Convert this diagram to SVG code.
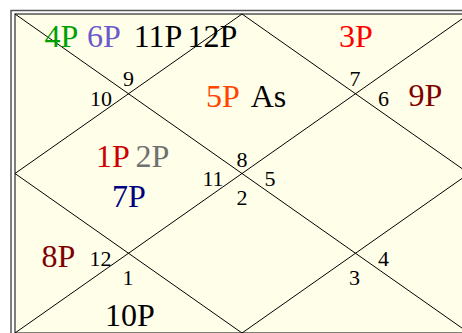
<svg xmlns="http://www.w3.org/2000/svg" width="462" height="333" viewBox="0 0 462 333">
<style>
.p{font-family:"Liberation Serif","Times New Roman",serif;font-size:32px;text-anchor:middle}
.n{font-family:"Liberation Serif","Times New Roman",serif;font-size:22px;text-anchor:middle;fill:#000}
.ln{stroke:#000;stroke-width:1;fill:none}
</style>
<rect x="0" y="0" width="462" height="333" fill="#fff"/>
<rect x="11" y="10.5" width="470" height="340" fill="none" stroke="#555" stroke-width="1.5"/>
<rect x="15" y="14" width="454" height="319" fill="#fffee9" stroke="#000" stroke-width="1"/>
<g id="lines" class="ln">
<line x1="15" y1="14" x2="469" y2="333"/>
<line x1="469" y1="14" x2="15" y2="333"/>
<polygon points="242,14 469,173.5 242,333 15,173.5"/>
</g>
<g id="house1">
<text class="n" x="242" y="166.5">8</text>
<text class="p" x="223" y="107" fill="#ff4500">5P</text>
<text class="p" x="268.5" y="107" fill="#000">As</text>
</g>
<g id="house2">
<text class="n" x="128.5" y="86">9</text>
<text class="p" x="61.5" y="47" fill="#00a000">4P</text>
<text class="p" x="104" y="47" fill="#6a5acd">6P</text>
<text class="p" x="158" y="47" fill="#000">11P</text>
<text class="p" x="212.5" y="47" fill="#000">12P</text>
</g>
<g id="house3">
<text class="n" x="101" y="106">10</text>
</g>
<g id="house4">
<text class="n" x="213" y="186">11</text>
<text class="p" x="113" y="166.5" fill="#cc0000">1P</text>
<text class="p" x="152.5" y="166.5" fill="#707070">2P</text>
<text class="p" x="129" y="207" fill="#000080">7P</text>
</g>
<g id="house5">
<text class="n" x="100.5" y="265.5">12</text>
<text class="p" x="58.5" y="267" fill="#800000">8P</text>
</g>
<g id="house6">
<text class="n" x="128" y="284.5">1</text>
<text class="p" x="130" y="326" fill="#000">10P</text>
</g>
<g id="house7">
<text class="n" x="242" y="204.5">2</text>
</g>
<g id="house8">
<text class="n" x="354.5" y="285">3</text>
</g>
<g id="house9">
<text class="n" x="383.5" y="266">4</text>
</g>
<g id="house10">
<text class="n" x="270" y="186">5</text>
</g>
<g id="house11">
<text class="n" x="383.5" y="106">6</text>
<text class="p" x="425.5" y="106" fill="#800000">9P</text>
</g>
<g id="house12">
<text class="n" x="355" y="86">7</text>
<text class="p" x="356" y="47" fill="#ff0000">3P</text>
</g>
</svg>
